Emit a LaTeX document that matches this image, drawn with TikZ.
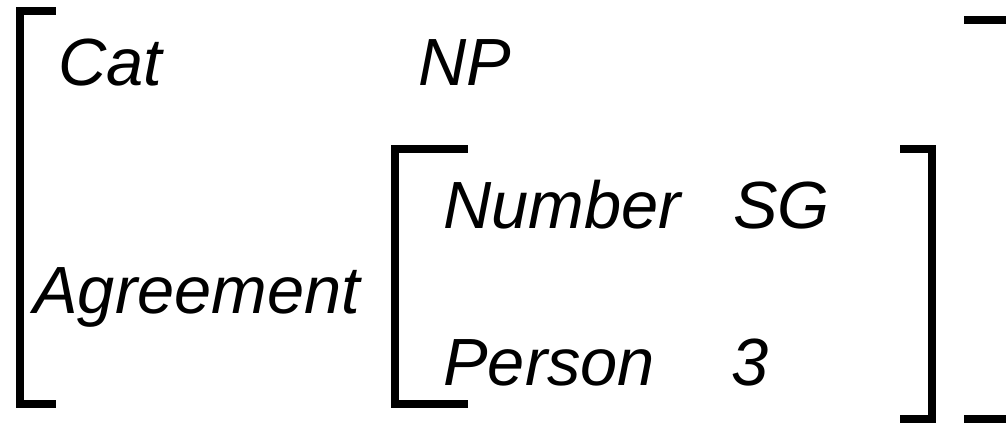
\documentclass[tikz,border=0pt]{standalone}
\usepackage{fontspec}
\setmainfont{Liberation Sans}
\usepackage{tikz}
\usetikzlibrary{positioning}
\tikzstyle{feat} = [anchor=base west, inner sep=0pt, font=\fontsize{38}{44}\selectfont\itshape]
\tikzstyle{brak} = [line width=0.16cm, line cap=rect, line join=miter]

\begin{document}
\begin{tikzpicture}[x=0.02cm, y=-0.02cm]
\useasboundingbox (0,0) rectangle (1006,422);
\clip (0,0) rectangle (1006,422);

% Outer matrix
\node[feat] (cat) at (58,86) {Cat};
\node[feat] (np) at (418,86) {NP};
\node[feat] (agr) at (33,313) {Agreement};

% Inner matrix
\node[feat] (num) at (443,228) {Number};
\node[feat] (sg) at (733,228) {SG};
\node[feat] (pers) at (443,385) {Person};
\node[feat] (three) at (731,385) {3};

% Brackets
\draw[brak] (52,11.5) -- (20,11.5) -- (20,404) -- (52,404);
\draw[brak] (1012,20.5) -- (968,20.5);
\draw[brak] (1012,419) -- (968,419);
\draw[brak] (464,149) -- (395,149) -- (395,404) -- (464,404);
\draw[brak] (904,149) -- (932,149) -- (932,419) -- (904,419);
\end{tikzpicture}
\end{document}
